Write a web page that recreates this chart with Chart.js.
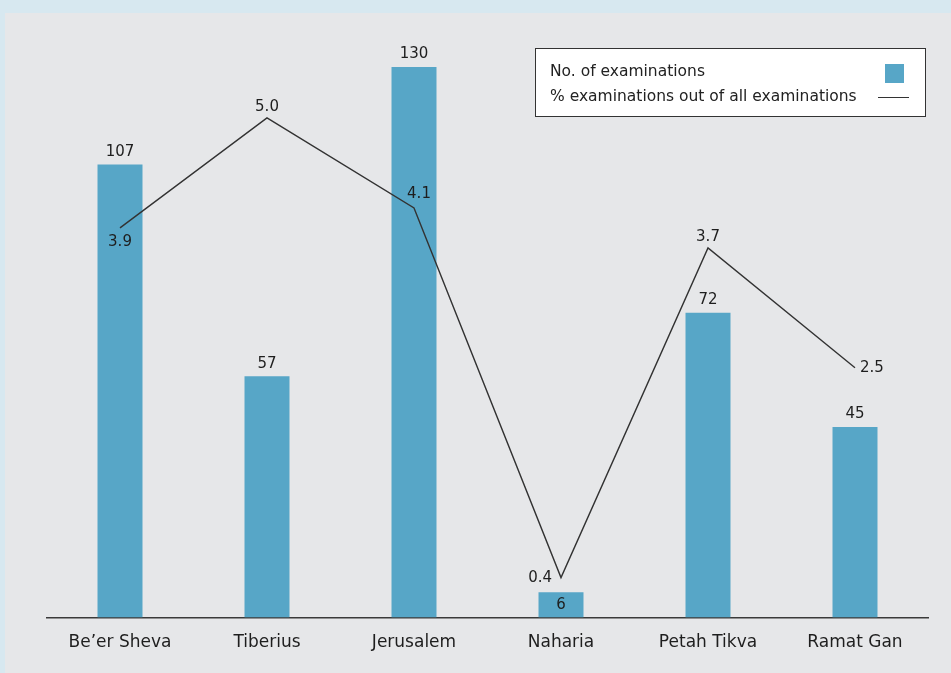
<!DOCTYPE html>
<html>
<head>
<meta charset="utf-8">
<script src="https://cdn.jsdelivr.net/npm/chart.js@4.4.1/dist/chart.umd.min.js"></script>
<style>
  html, body { margin: 0; padding: 0; }
  body { width: 951px; height: 673px; background: #d7e8f0; position: relative; overflow: hidden; }
  #panel { position: absolute; left: 5px; top: 13px; width: 946px; height: 660px; background: #e6e7e9; }
  #chart { position: absolute; left: 0; top: 0; }
</style>
</head>
<body>
<div id="panel"></div>
<canvas id="chart" width="951" height="673"></canvas>
<script>
// data
const cities = ["Be\u2019er Sheva", "Tiberius", "Jerusalem", "Naharia", "Petah Tikva", "Ramat Gan"];
const examinations = [107, 57, 130, 6, 72, 45];
const percentOfAll = [3.9, 5.0, 4.1, 0.4, 3.7, 2.5];
const seriesNames = ["No. of examinations", "% examinations out of all examinations"];

// where each % label sits relative to its point
const pctLabelSide = ["below", "above", "aboveRight", "left", "above", "right"];

const BAR_COLOR = "#57a6c7";
const LINE_COLOR = "#333333";
const FONT = "'DejaVu Sans', 'Noto Sans', sans-serif";

// value labels for bars and line points
const valueLabels = {
	id: "valueLabels",
	afterDatasetsDraw(chart) {
		const ctx = chart.ctx;
		ctx.save();
		ctx.fillStyle = "#1e1e1e";
		ctx.font = "15px " + FONT;
		ctx.textAlign = "center";

		const bars = chart.getDatasetMeta(0).data;
		bars.forEach(function (bar, i) {
			const h = bar.base - bar.y;
			if (h < 40) {
				// small bar: label inside
				ctx.textBaseline = "middle";
				ctx.fillText(String(examinations[i]), bar.x, bar.y + h / 2);
			} else {
				ctx.textBaseline = "bottom";
				ctx.fillText(String(examinations[i]), bar.x, bar.y - 5);
			}
		});

		const pts = chart.getDatasetMeta(1).data;
		pts.forEach(function (p, i) {
			const txt = percentOfAll[i].toFixed(1);
			const side = pctLabelSide[i];
			ctx.textAlign = "center";
			ctx.textBaseline = "middle";
			let x = p.x, y = p.y;
			if (side === "below") y += 14;
			else if (side === "above") y -= 11;
			else if (side === "aboveRight") { x += 5; y -= 14; }
			else if (side === "left") { ctx.textAlign = "right"; x -= 9; }
			else if (side === "right") { ctx.textAlign = "left"; x += 5; }
			ctx.fillText(txt, x, y);
		});
		ctx.restore();
	}
};

// boxed legend in the top right
const boxLegend = {
	id: "boxLegend",
	afterDraw(chart) {
		const ctx = chart.ctx;
		ctx.save();
		ctx.fillStyle = "#ffffff";
		ctx.fillRect(535, 48, 391, 69);
		ctx.strokeStyle = "#333333";
		ctx.lineWidth = 1;
		ctx.strokeRect(535.5, 48.5, 390, 68);

		ctx.fillStyle = "#222222";
		ctx.font = "15.5px " + FONT;
		ctx.textAlign = "left";
		ctx.textBaseline = "middle";
		ctx.fillText(seriesNames[0], 550, 72);
		ctx.fillText(seriesNames[1], 550, 97);

		ctx.fillStyle = BAR_COLOR;
		ctx.fillRect(885, 64, 19, 19);
		ctx.strokeStyle = LINE_COLOR;
		ctx.beginPath();
		ctx.moveTo(878, 97.5);
		ctx.lineTo(909, 97.5);
		ctx.stroke();
		ctx.restore();
	}
};

const ctx = document.getElementById("chart").getContext("2d");
const chart = new Chart(ctx, {
	data: {
		labels: cities,
		datasets: [
			{
				type: "bar",
				label: seriesNames[0],
				data: examinations,
				backgroundColor: BAR_COLOR,
				categoryPercentage: 1,
				barPercentage: 0.306,
				yAxisID: "y",
				order: 2,
			},
			{
				type: "line",
				label: seriesNames[1],
				data: percentOfAll,
				borderColor: LINE_COLOR,
				borderWidth: 1.4,
				pointRadius: 0,
				tension: 0,
				yAxisID: "y1",
				order: 1,
			},
		],
	},
	options: {
		responsive: false,
		animation: false,
		devicePixelRatio: 1,
		layout: { padding: { left: 46.5, right: 22.5, top: 67, bottom: 5 } },
		plugins: {
			legend: { display: false },
			tooltip: { enabled: false },
		},
		scales: {
			x: {
				grid: { display: false, drawTicks: false },
				border: { display: true, color: "#3a3a3a", width: 1.5 },
				ticks: { color: "#1e1e1e", font: { family: FONT, size: 17 }, padding: 15 },
			},
			y: { display: false, min: 0, max: 130 },
			y1: { display: false, min: 0, max: 5.51 },
		},
	},
	plugins: [valueLabels, boxLegend],
});
</script>
</body>
</html>
